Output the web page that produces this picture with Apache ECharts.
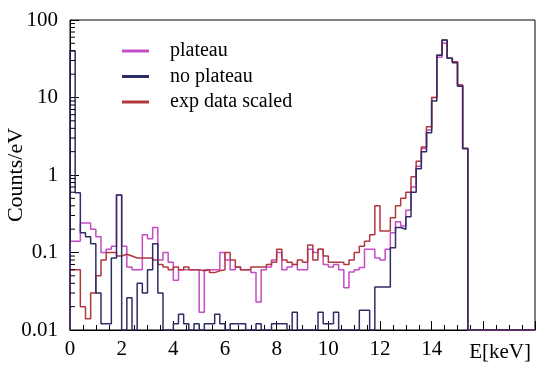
<!DOCTYPE html>
<html><head><meta charset="utf-8">
<script src="https://cdn.jsdelivr.net/npm/echarts@6/dist/echarts.min.js"></script>
<style>html,body{margin:0;padding:0;background:#fff}#c{width:550px;height:373px}</style>
</head><body><div id="c"></div>
<script>
// ---- data ----
const binWidth = 0.2; // keV, bins start at 0
const xTickLabels = ['0','2','4','6','8','10','12','14'];
const xAxisTitle = 'E[keV]';
const yAxisTitle = 'Counts/eV';
const seriesNames = ['plateau', 'no plateau', 'exp data scaled'];
const plateau = [
  0.14,0.14,0.24,0.24,0.2,0.16,0.1,0.11,0.12,0.55,
  0.12,0.065,0.06,0.06,0.17,0.15,0.21,0.08,0.1,0.075,
  0.044,0.06,0.06,0.06,0.06,0.017,0.06,0.06,0.06,0.1,
  0.08,0.06,0.065,0.06,0.06,0.055,0.023,0.06,0.065,0.08,
  0.1,0.06,0.065,0.07,0.06,0.06,0.11,0.1,0.11,0.07,
  0.065,0.07,0.06,0.035,0.056,0.06,0.064,0.11,0.11,0.085,
  0.08,0.11,0.18,0.25,0.22,0.35,0.7,1.3,2.2,3.8,
  10,33,50,32,29,14.5,2.2,0,0,0,
  0,0,0,0,0,0,0,0,0,0
];
const noPlateau = [
  40,0.59,0.18,0.16,0.13,0.03,0.012,0.012,0.085,0.55,
  0,0.026,0,0.04,0.03,0.06,0.13,0.03,0,0,
  0.012,0.016,0.012,0,0.012,0,0.012,0.012,0.016,0.012,
  0,0.012,0.012,0.012,0,0,0.012,0,0,0.012,
  0.012,0.012,0,0.017,0,0,0,0,0.017,0.012,
  0.012,0.017,0,0,0,0,0.018,0.018,0,0.036,
  0.036,0.036,0.115,0.21,0.2,0.29,0.6,1.2,2.0,3.5,
  9,35,55,32,28,14,2.2,0,0,0,
  0,0,0,0,0,0,0,0,0,0
];
const expScaled = [
  0.06,0.06,0.02,0.014,0.03,0.05,0.08,0.1,0.1,0.09,
  0.095,0.09,0.085,0.085,0.085,0.085,0.08,0.07,0.065,0.06,
  0.065,0.06,0.065,0.06,0.06,0.058,0.06,0.055,0.058,0.06,
  0.1,0.08,0.065,0.06,0.06,0.065,0.065,0.065,0.07,0.075,
  0.11,0.08,0.075,0.07,0.08,0.075,0.125,0.08,0.11,0.09,
  0.075,0.075,0.075,0.07,0.08,0.1,0.12,0.14,0.17,0.4,
  0.19,0.19,0.28,0.4,0.5,0.6,0.95,1.5,2.3,4.2,
  10,35,55,32,29,14.5,2.2,0,0,0,
  0,0,0,0,0,0,0,0,0,0
];
const colors = ['#c44cc4', '#2e2e66', '#b0393f'];

// ---- build ----
const Y_MIN = 0.01, Y_MAX = 100, X_MAX = 18;
function steps(vals) {
  const pts = [[0, Y_MIN]];
  vals.forEach((v, i) => pts.push([+(i * binWidth).toFixed(4), Math.max(v, Y_MIN)]));
  const last = vals[vals.length - 1];
  pts.push([+(vals.length * binWidth).toFixed(4), Math.max(last, Y_MIN)]);
  return pts;
}
const minorY = [];
for (let e = -2; e < 2; e++) for (let m = 2; m <= 9; m++) minorY.push([0, m * Math.pow(10, e)]);

const serif = 'Liberation Serif, Times New Roman, serif';
const chart = echarts.init(document.getElementById('c'), null, {renderer: 'canvas'});
const dataSets = [plateau, noPlateau, expScaled];
const lineSeries = seriesNames.map((n, i) => ({
  name: n, type: 'line', step: 'end', data: steps(dataSets[i]),
  showSymbol: false, symbol: 'none', clip: true, silent: true,
  z: [2, 4, 3][i],
  lineStyle: {color: colors[i], width: 1.5},
  itemStyle: {color: colors[i]}
}));
chart.setOption({
  animation: false,
  backgroundColor: '#fff',
  grid: {left: 70, right: 15, top: 20, bottom: 43, containLabel: false, outerBoundsMode: 'none',
    show: true, borderColor: '#000', borderWidth: 1},
  legend: {
    data: seriesNames, orient: 'vertical', left: 122, top: 41, padding: 0,
    icon: 'rect', itemWidth: 27, itemHeight: 3, itemGap: 5.5,
    textStyle: {fontFamily: serif, fontSize: 20, lineHeight: 20, color: '#000', padding: [0, 0, 0, 16]}
  },
  xAxis: {
    type: 'value', min: 0, max: X_MAX, interval: 2,
    name: xAxisTitle, nameLocation: 'end', nameGap: -4, nameMoveOverlap: false,
    nameTextStyle: {fontFamily: serif, fontSize: 21, color: '#000', align: 'right', verticalAlign: 'top', padding: [12, 0, 0, 0]},
    axisLine: {lineStyle: {color: '#000', width: 1}},
    axisTick: {inside: true, length: 9, lineStyle: {color: '#000'}},
    minorTick: {show: true, splitNumber: 4, length: 5, lineStyle: {color: '#000'}},
    splitLine: {show: false},
    axisLabel: {fontFamily: serif, fontSize: 21, color: '#000', margin: 9,
      formatter: v => { const i = Math.round(v / 2); return (Math.abs(v - 2 * i) < 1e-6 && i < xTickLabels.length) ? xTickLabels[i] : ''; }}
  },
  yAxis: {
    type: 'log', logBase: 10, min: Y_MIN, max: Y_MAX,
    name: yAxisTitle, nameLocation: 'middle', nameGap: 43, nameRotate: 90, nameMoveOverlap: false,
    nameTextStyle: {fontFamily: serif, fontSize: 22, color: '#000'},
    axisLine: {show: true, lineStyle: {color: '#000', width: 1}},
    axisTick: {inside: true, length: 9, lineStyle: {color: '#000'}},
    splitLine: {show: false},
    axisLabel: {fontFamily: serif, fontSize: 21, color: '#000', margin: 12,
      formatter: v => String(+(+v).toPrecision(3))}
  },
  series: lineSeries.concat([{
    type: 'custom', silent: true, z: 5, data: minorY, clip: false,
    renderItem: (params, api) => {
      const p = api.coord([0, api.value(1)]);
      return {type: 'line', shape: {x1: p[0], y1: p[1], x2: p[0] + 5, y2: p[1]}, style: {stroke: '#000', lineWidth: 1}};
    }
  }])
});
</script></body></html>
